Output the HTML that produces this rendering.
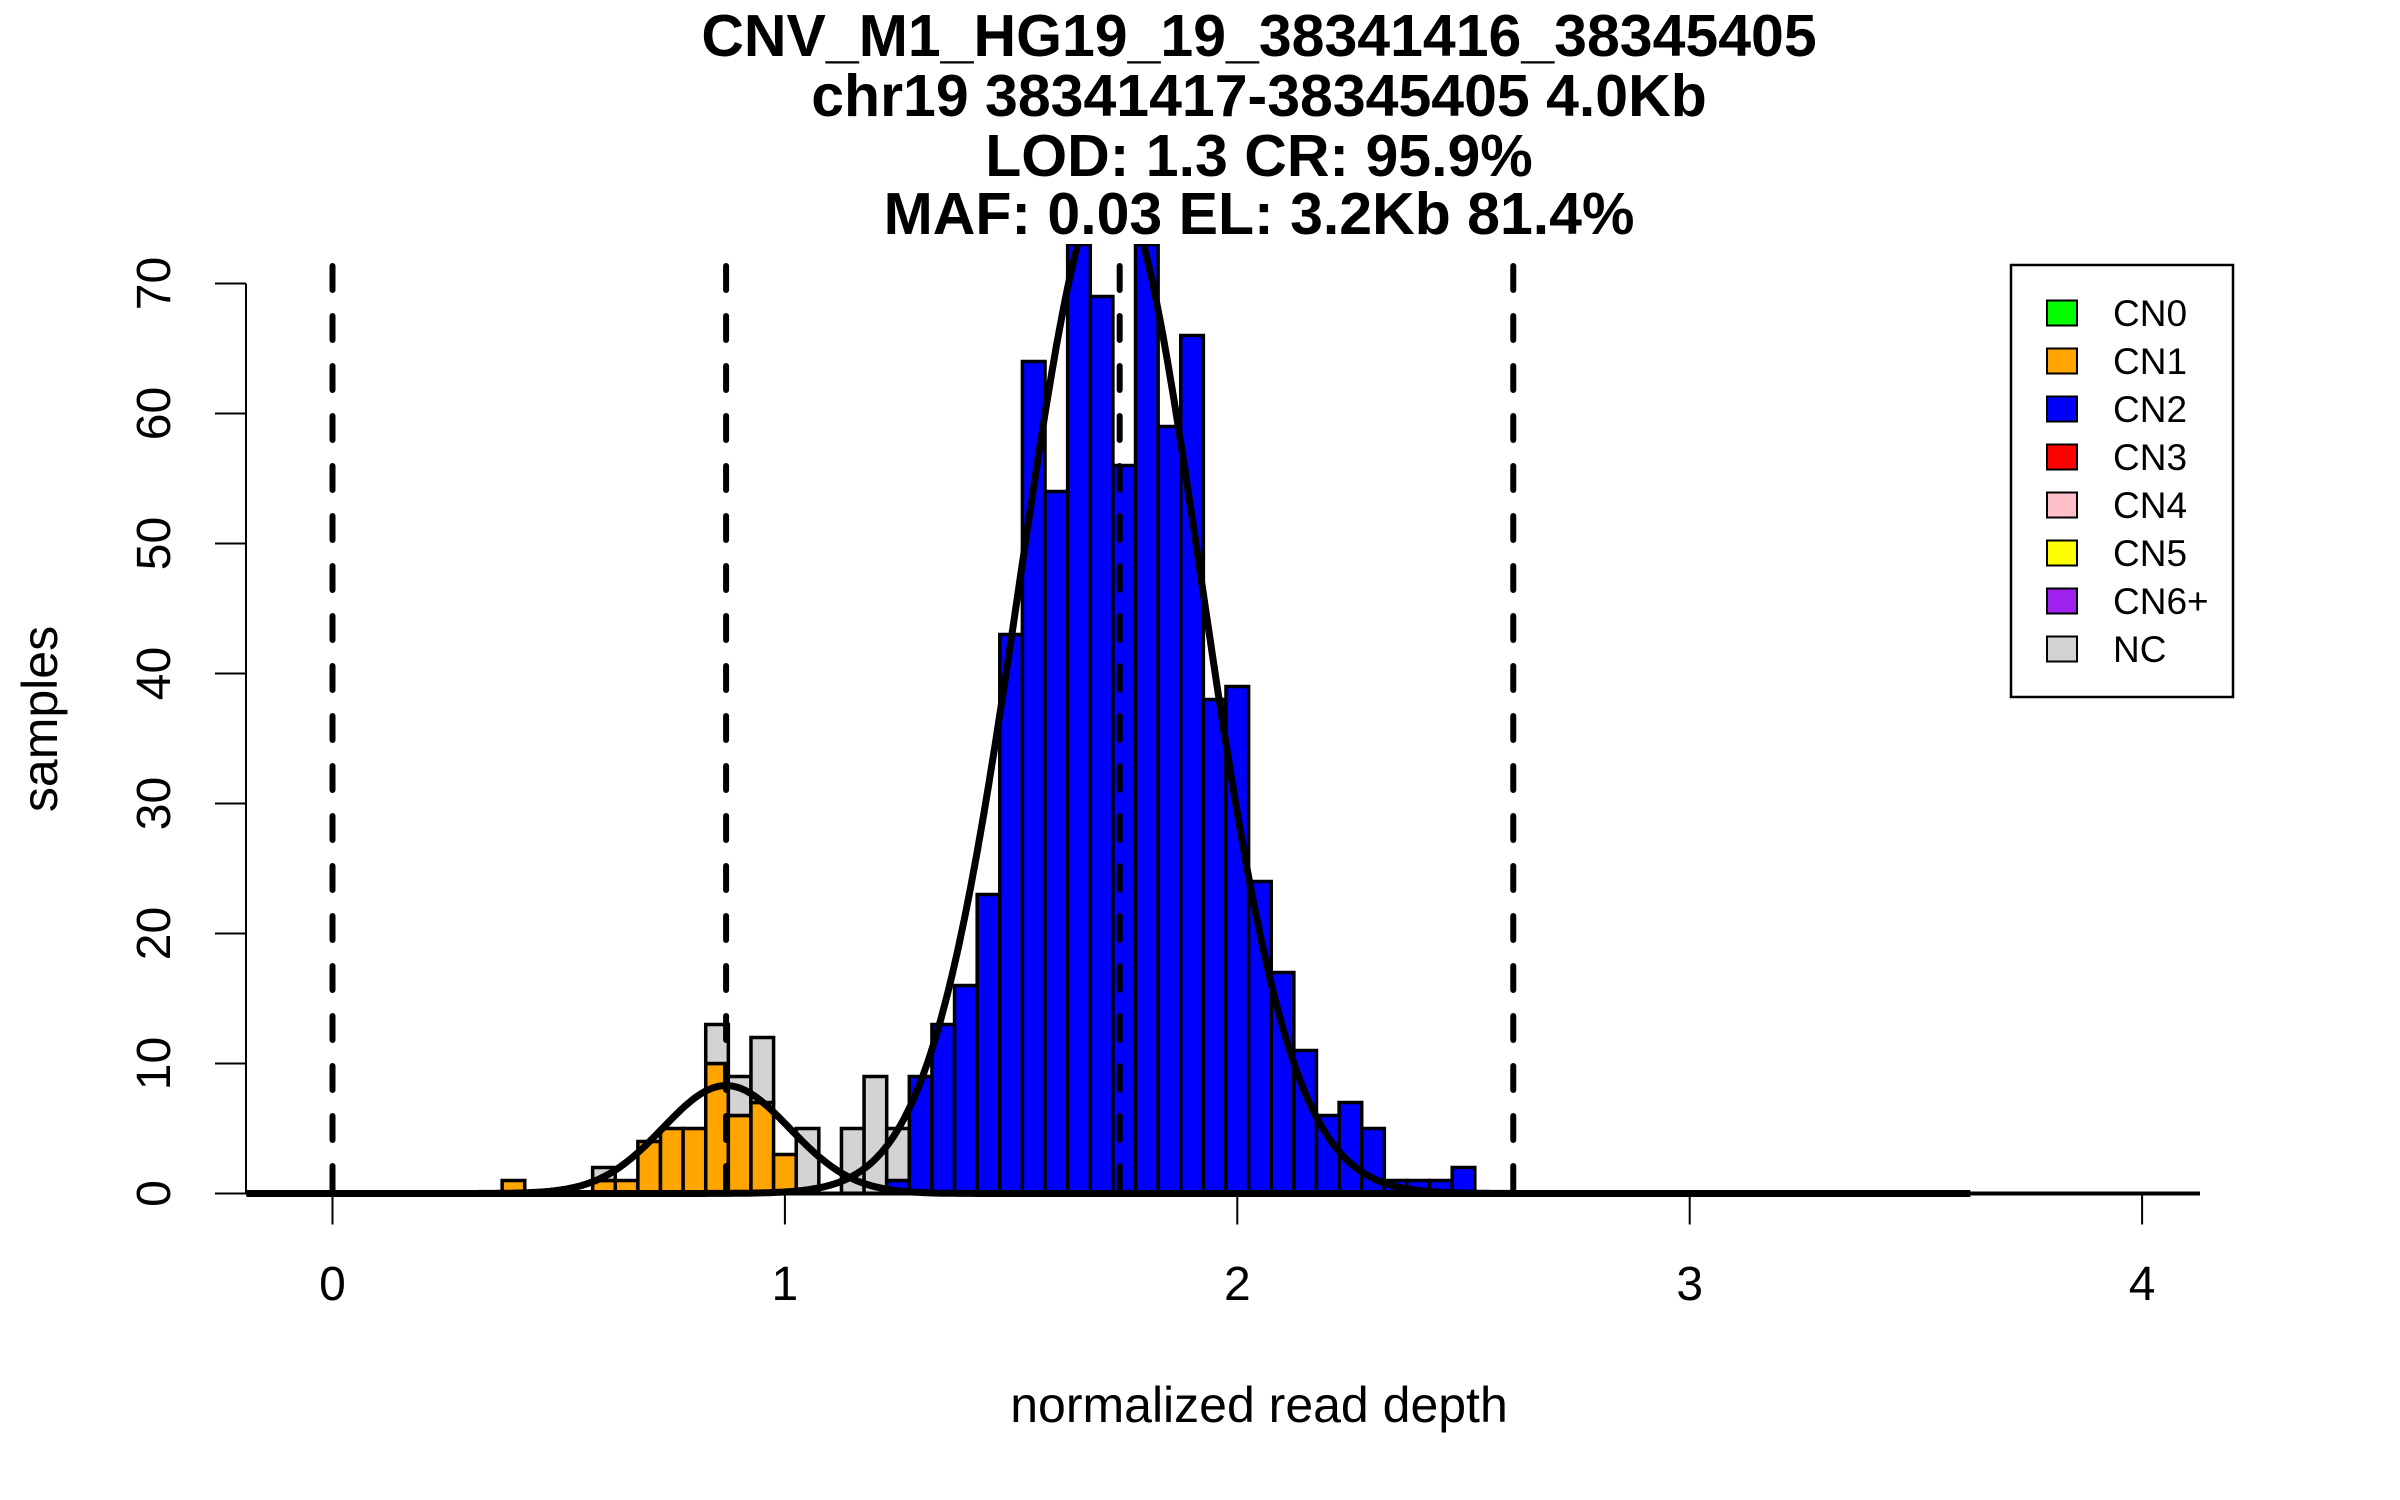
<!DOCTYPE html>
<html><head><meta charset="utf-8"><style>
html,body{margin:0;padding:0;background:#fff;}
svg{display:block;font-family:"Liberation Sans",Arial,sans-serif;}
</style></head>
<body>
<svg id="chart" width="2400" height="1500" viewBox="0 0 2400 1500" xmlns="http://www.w3.org/2000/svg">
<defs><clipPath id="plotclip"><rect x="246" y="244" width="1960" height="960"/></clipPath></defs>
<g font-weight="bold" font-size="59" text-anchor="middle" fill="#000">
<text x="1259" y="56">CNV_M1_HG19_19_38341416_38345405</text>
<text x="1259" y="116">chr19 38341417-38345405 4.0Kb</text>
<text x="1259" y="176">LOD: 1.3 CR: 95.9%</text>
<text x="1259" y="234">MAF: 0.03 EL: 3.2Kb 81.4%</text>
</g>
<g id="bars" clip-path="url(#plotclip)"></g>
<g id="curves" clip-path="url(#plotclip)"></g>
<g id="vlines"></g>
<g id="axes"></g>
<text x="1259" y="1422" font-size="50" text-anchor="middle">normalized read depth</text>
<text transform="translate(57,719) rotate(-90)" font-size="50" text-anchor="middle">samples</text>
<g id="legend"></g>
</svg>
<script>
// data
const binCenters = [0.40,0.60,0.65,0.70,0.75,0.80,0.85,0.90,0.95,1.00,1.05,1.15,1.20,1.25,1.30,1.35,1.40,1.45,1.50,1.55,1.60,1.65,1.70,1.75,1.80,1.85,1.90,1.95,2.00,2.05,2.10,2.15,2.20,2.25,2.30,2.35,2.40,2.45,2.50];
const cn1Counts  = [1,1,1,4,5,5,10,6,7,3,0,0,0,0,0,0,0,0,0,0,0,0,0,0,0,0,0,0,0,0,0,0,0,0,0,0,0,0,0];
const cn2Counts  = [0,0,0,0,0,0,0,0,0,0,0,0,0,1,9,13,16,23,43,64,54,73,69,56,73,59,66,38,39,24,17,11,6,7,5,1,1,1,2];
const ncCounts   = [0,1,0,0,0,0,3,3,5,0,5,5,9,4,0,0,0,0,0,0,0,0,0,0,0,0,0,0,0,0,0,0,0,0,0,0,0,0,0];
const binWidth = 0.05;
const fitMeans = [0.87,1.72];
const fitSds = [0.14,0.2];
const fitPeaks = [8.3,78];
const thresholds = [0,0.87,1.74,2.61];
const xTicks = [0,1,2,3,4];
const yTicks = [0,10,20,30,40,50,60,70];
const legendLabels = ["CN0","CN1","CN2","CN3","CN4","CN5","CN6+","NC"];
const legendColors = ["#00ff00","#ffa500","#0000ff","#ff0000","#ffc0cb","#ffff00","#a020f0","#d3d3d3"];

const NS="http://www.w3.org/2000/svg";
const X0=332.5, XU=452.4, Y0=1193.5, YU=13.0;
const sx=v=>X0+v*XU, sy=v=>Y0-v*YU;
function mk(tag,attrs,parent){const e=document.createElementNS(NS,tag);for(const k in attrs)e.setAttribute(k,attrs[k]);parent.appendChild(e);return e;}

const bars=document.getElementById('bars');
binCenters.forEach((c,i)=>{
  const x1=sx(c-binWidth/2), w=sx(c+binWidth/2)-x1;
  let base=0;
  [[cn1Counts[i],'#ffa500','cn1'],[cn2Counts[i],'#0000ff','cn2'],[ncCounts[i],'#d3d3d3','nc']].forEach(([v,col,nm])=>{
    if(v>0){
      const r=mk('rect',{x:x1,y:sy(base+v),width:w,height:v*YU,fill:col,stroke:'#000','stroke-width':3.5},bars);
      
      
      base+=v;
    }
  });
});

const curves=document.getElementById('curves');
fitMeans.forEach((m,k)=>{
  let d='';
  for(let x=-0.19;x<=3.62;x+=0.005){
    const y=fitPeaks[k]*Math.exp(-((x-m)**2)/(2*fitSds[k]**2));
    d+=(d?'L':'M')+sx(x).toFixed(1)+','+sy(y).toFixed(1);
  }
  const p=mk('path',{d:d,fill:'none',stroke:'#000','stroke-width':7,'stroke-linejoin':'round'},curves);
  
  
});

const vl=document.getElementById('vlines');
thresholds.forEach(t=>{
  const l=mk('line',{x1:sx(t),x2:sx(t),y1:266,y2:Y0,stroke:'#000','stroke-width':6,'stroke-dasharray':'24 26','stroke-linecap':'round'},vl);
  
  
});

const ax=document.getElementById('axes');
const xb=mk('line',{x1:246,x2:2200,y1:Y0,y2:Y0,stroke:'#000','stroke-width':4},ax);


xTicks.forEach(t=>{
  const tk=mk('line',{x1:sx(t),x2:sx(t),y1:Y0,y2:Y0+31,stroke:'#000','stroke-width':2},ax);
  
  
  const tx=mk('text',{x:sx(t),y:1300,'font-size':48,'text-anchor':'middle'},ax);
  tx.textContent=t;
  
  
});
const ya=mk('line',{x1:246,x2:246,y1:sy(0),y2:sy(70),stroke:'#000','stroke-width':2},ax);


yTicks.forEach(t=>{
  const tk=mk('line',{x1:215,x2:246,y1:sy(t),y2:sy(t),stroke:'#000','stroke-width':2},ax);
  
  
  const tx=mk('text',{transform:`translate(170,${sy(t)}) rotate(-90)`,'font-size':48,'text-anchor':'middle'},ax);
  tx.textContent=t;
  
  
});

const lg=document.getElementById('legend');
const box=mk('rect',{x:2011,y:265,width:222,height:432,fill:'#fff',stroke:'#000','stroke-width':2.5},lg);


legendLabels.forEach((lab,i)=>{
  const cy=313+i*48;
  const s=mk('rect',{x:2047,y:cy-12.5,width:30,height:25,fill:legendColors[i],stroke:'#000','stroke-width':2},lg);
  
  
  const t=mk('text',{x:2113,y:cy+13,'font-size':37},lg);
  t.textContent=lab;
  
  
});
</script>
</body></html>
